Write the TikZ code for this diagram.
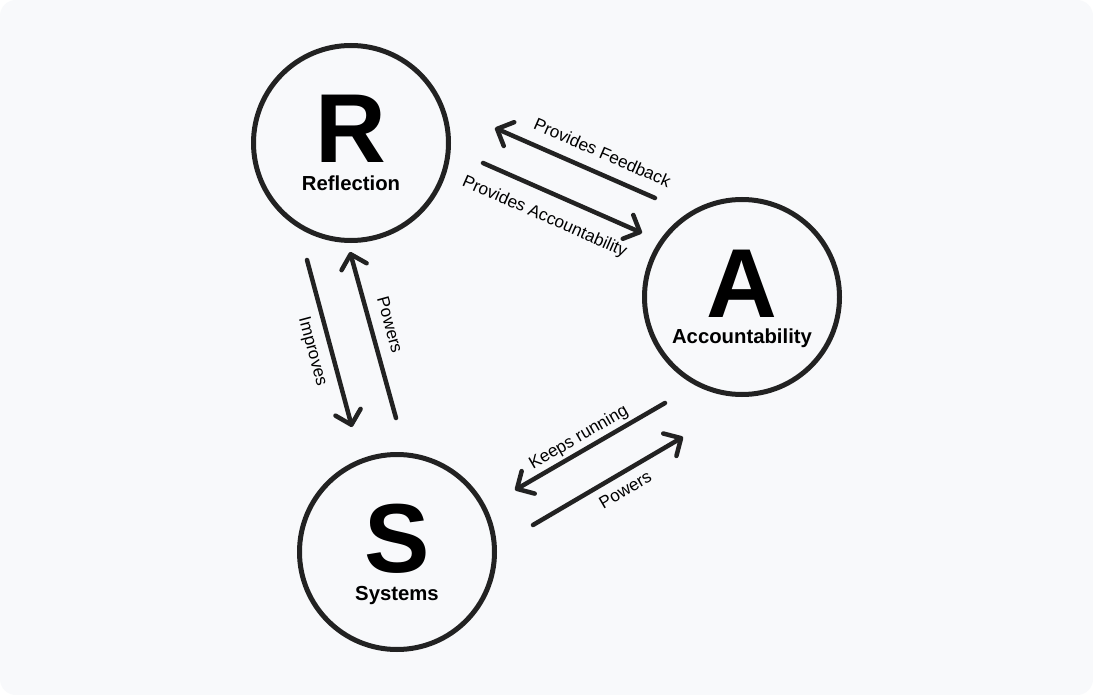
\documentclass[tikz,border=0pt]{standalone}
\usepackage{fontspec}
\setmainfont{Liberation Sans}
\usetikzlibrary{arrows.meta}
\definecolor{ink}{HTML}{222222}
\definecolor{paper}{HTML}{F8F9FB}

\begin{document}
\begin{tikzpicture}[x=1pt,y=-1pt,
	hub/.style={circle,draw=ink,line width=5pt,minimum size=195pt,inner sep=0pt},
	initial/.style={anchor=base,inner sep=0pt,font=\fontsize{98}{98}\selectfont\bfseries},
	caption/.style={anchor=base,inner sep=0pt,font=\fontsize{20.3}{21}\selectfont\bfseries},
	link/.style={draw=ink,line width=4.5pt,line cap=round,-{Straight Barb[round,length=13pt,width=26pt]}},
	tag/.style={sloped,inner sep=0pt,text height=12pt,text depth=3.5pt,font=\fontsize{17.2}{18}\selectfont}]
	\fill[white] (0,0) rectangle (1093,695);
	\fill[paper,rounded corners=16pt] (0,0) rectangle (1093,695);
	% the three circles
	\node[hub] (R) at (351,143) {};
	\node[hub] (A) at (742,297) {};
	\node[hub] (S) at (397,552) {};
	\node[initial] (Rl) at ([yshift=-20pt]R.center) {R};
	\node[initial] (Al) at ([yshift=-20pt]A.center) {A};
	\node[initial] (Sl) at ([yshift=-20pt]S.center) {S};
	\node[caption] (Rc) at ([yshift=-48pt]R.center) {Reflection};
	\node[caption] (Ac) at ([yshift=-46pt]A.center) {Accountability};
	\node[caption] (Sc) at ([yshift=-48pt]S.center) {Systems};
	% arrow ends
	\coordinate (fbT) at (655,198);
	\coordinate (fbH) at (495,128);
	\coordinate (acT) at (483,163);
	\coordinate (acH) at (642,233);
	\coordinate (imT) at (307,260);
	\coordinate (imH) at (352,427);
	\coordinate (pwT) at (396,418);
	\coordinate (pwH) at (350,252);
	\coordinate (krT) at (665,403);
	\coordinate (krH) at (515,490);
	\coordinate (psT) at (533,525);
	\coordinate (psH) at (683,437);
	% arrows
	\draw[link] (fbT) -- node[tag,pos=.38,above=8.75pt] {Provides Feedback} (fbH);
	\draw[link] (acT) -- node[tag,pos=.45,below=15pt] {Provides Accountability} (acH);
	\draw[link] (imT) -- node[tag,pos=.52,below=8.75pt] {Improves} (imH);
	\draw[link] (pwT) -- node[tag,pos=.53,above=7.75pt] {Powers} (pwH);
	\draw[link] (krT) -- node[tag,pos=.53,above=3pt] {Keeps running} (krH);
	\draw[link] (psT) -- node[tag,pos=.56,below=7.85pt] {Powers} (psH);
\end{tikzpicture}
\end{document}
